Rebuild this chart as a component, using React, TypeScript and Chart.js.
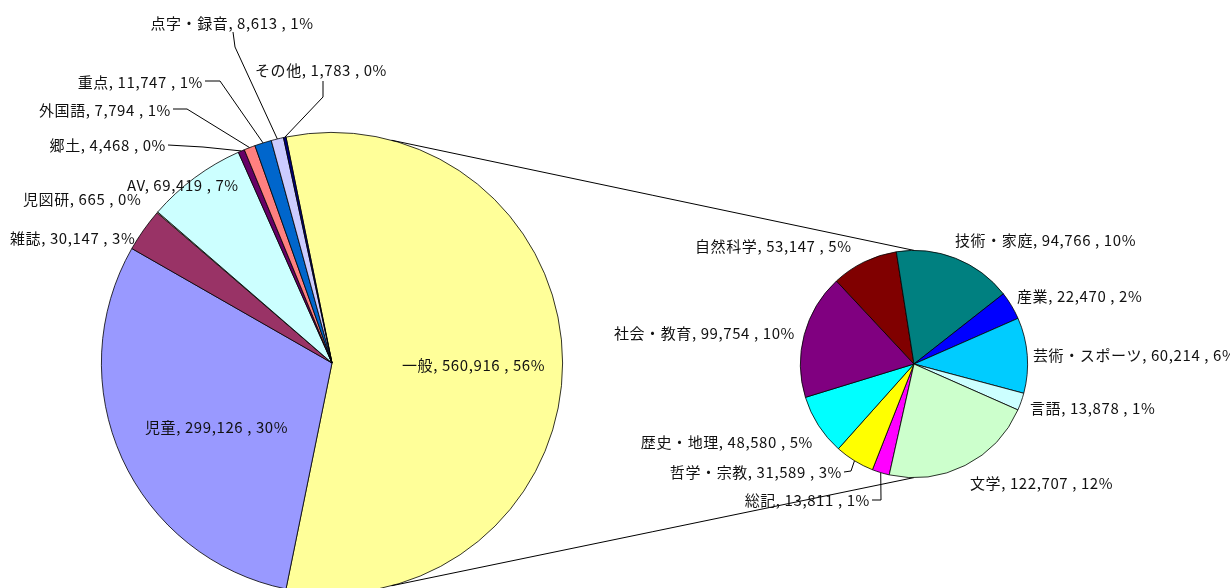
import React, { useEffect, useRef } from 'react';
import { Chart, registerables } from 'chart.js';

Chart.register(...registerables);

// ---- data ----
const mainCategories = ['一般', '児童', '雑誌', '児図研', 'AV', '郷土', '外国語', '重点', '点字・録音', 'その他'];
const mainValues = [560916, 299126, 30147, 665, 69419, 4468, 7794, 11747, 8613, 1783];
const subCategories = ['総記', '哲学・宗教', '歴史・地理', '社会・教育', '自然科学', '技術・家庭', '産業', '芸術・スポーツ', '言語', '文学'];
const subValues = [13811, 31589, 48580, 99754, 53147, 94766, 22470, 60214, 13878, 122707];

// ---- styles ----
const mainColors = ['#FFFF99', '#9999FF', '#993366', '#FFFFCC', '#CCFFFF', '#660066', '#FF8080', '#0066CC', '#CCCCFF', '#000080'];
const subColors = ['#FF00FF', '#FFFF00', '#00FFFF', '#800080', '#800000', '#008080', '#0000FF', '#00CCFF', '#CCFFFF', '#CCFFCC'];

type LabelPos = { x: number; y: number; align: 'left' | 'right' | 'center'; leader?: number[][] };

const mainLabelLayout: LabelPos[] = [
  { x: 402, y: 365, align: 'left' },
  { x: 145, y: 427, align: 'left' },
  { x: 10, y: 238, align: 'left' },
  { x: 23, y: 199, align: 'left' },
  { x: 127, y: 185, align: 'left' },
  { x: 166, y: 145, align: 'right', leader: [[168, 145], [203, 147]] },
  { x: 171, y: 110, align: 'right', leader: [[173, 109], [187, 109]] },
  { x: 203, y: 82, align: 'right', leader: [[205, 81], [220, 81]] },
  { x: 232, y: 23, align: 'center', leader: [[233, 32], [235, 47]] },
  { x: 255, y: 70, align: 'left', leader: [[323, 81], [323, 97]] },
];

const subLabelLayout: LabelPos[] = [
  { x: 870, y: 500, align: 'right', leader: [[872, 500], [881, 500]] },
  { x: 842, y: 472, align: 'right', leader: [[844, 472], [851, 471]] },
  { x: 813, y: 442, align: 'right' },
  { x: 795, y: 333, align: 'right' },
  { x: 695, y: 246, align: 'left' },
  { x: 955, y: 240, align: 'left' },
  { x: 1017, y: 296, align: 'left' },
  { x: 1033, y: 355, align: 'left' },
  { x: 1030, y: 408, align: 'left' },
  { x: 970, y: 483, align: 'left' },
];

const W = 1230;
const H = 600;
const FONT = '15px "Noto Sans CJK JP", "Noto Sans", sans-serif';

const total = mainValues.reduce((a, b) => a + b, 0);

function labelText(name: string, v: number) {
  return `${name}, ${v.toLocaleString('en-US')} , ${Math.round((v / total) * 100)}%`;
}

function makeLabelPlugin(names: string[], values: number[], layout: LabelPos[]) {
  return {
    id: 'sliceLabels',
    afterDraw(chart: any) {
      const ctx = chart.ctx;
      const meta = chart.getDatasetMeta(0);
      ctx.save();
      ctx.font = FONT;
      try {
        (ctx as any).letterSpacing = '0.6px';
      } catch (e) {
        /* ignore */
      }
      ctx.fillStyle = '#111';
      ctx.strokeStyle = '#000';
      ctx.lineWidth = 1;
      ctx.textBaseline = 'middle';
      layout.forEach((p, i) => {
        const arc = meta.data[i];
        if (p.leader) {
          const { x, y, startAngle, endAngle, outerRadius } = arc.getProps(['x', 'y', 'startAngle', 'endAngle', 'outerRadius'], true);
          const mid = (startAngle + endAngle) / 2;
          const ex = x + Math.cos(mid) * outerRadius;
          const ey = y + Math.sin(mid) * outerRadius;
          ctx.beginPath();
          ctx.moveTo(p.leader[0][0], p.leader[0][1]);
          for (let k = 1; k < p.leader.length; k++) ctx.lineTo(p.leader[k][0], p.leader[k][1]);
          ctx.lineTo(ex, ey);
          ctx.stroke();
        }
        ctx.textAlign = p.align;
        ctx.fillText(labelText(names[i], values[i]), p.x, p.y);
      });
      ctx.restore();
    },
  };
}

export default function App() {
  const mainRef = useRef<HTMLCanvasElement | null>(null);
  const subRef = useRef<HTMLCanvasElement | null>(null);

  useEffect(() => {
    if (!mainRef.current || !subRef.current) return;

    const mainChart = new Chart(mainRef.current, {
      type: 'pie',
      data: {
        labels: mainCategories,
        datasets: [
          {
            data: mainValues,
            backgroundColor: mainColors,
            borderColor: '#000',
            borderWidth: 0.8,
          },
        ],
      },
      options: {
        responsive: false,
        animation: false,
        rotation: 90 - (mainValues[0] / total) * 180,
        layout: { padding: { left: 101, right: W - 563, top: 132, bottom: H - 594 } },
        plugins: { legend: { display: false }, tooltip: { enabled: false } },
        events: [],
      },
      plugins: [makeLabelPlugin(mainCategories, mainValues, mainLabelLayout)],
    } as any);

    const connectors = {
      id: 'connectors',
      beforeDatasetsDraw(chart: any) {
        const m = mainChart.getDatasetMeta(0).data[0] as any;
        const s = chart.getDatasetMeta(0).data[0];
        const mp = m.getProps(['x', 'y', 'outerRadius'], true);
        const sp = s.getProps(['x', 'y', 'outerRadius'], true);
        const pt = (c: any, deg: number) => [
          c.x + c.outerRadius * Math.sin((deg * Math.PI) / 180),
          c.y - c.outerRadius * Math.cos((deg * Math.PI) / 180),
        ];
        const ctx = chart.ctx;
        ctx.save();
        ctx.strokeStyle = '#000';
        ctx.lineWidth = 1;
        [[15, 0], [165, 180]].forEach(([a, b]) => {
          const p1 = pt(mp, a);
          const p2 = pt(sp, b);
          ctx.beginPath();
          ctx.moveTo(p1[0], p1[1]);
          ctx.lineTo(p2[0], p2[1]);
          ctx.stroke();
        });
        ctx.restore();
      },
    };

    const subChart = new Chart(subRef.current, {
      type: 'pie',
      data: {
        labels: subCategories,
        datasets: [
          {
            data: subValues,
            backgroundColor: subColors,
            borderColor: '#000',
            borderWidth: 0.8,
          },
        ],
      },
      options: {
        responsive: false,
        animation: false,
        rotation: 192.6,
        layout: { padding: { left: 800, right: W - 1028, top: 250, bottom: H - 478 } },
        plugins: { legend: { display: false }, tooltip: { enabled: false } },
        events: [],
      },
      plugins: [connectors, makeLabelPlugin(subCategories, subValues, subLabelLayout)],
    } as any);

    return () => {
      subChart.destroy();
      mainChart.destroy();
    };
  }, []);

  return (
    <div
      style={{
        position: 'fixed',
        left: 0,
        top: 0,
        width: W,
        height: 588,
        overflow: 'hidden',
        background: '#fff',
      }}
    >
      <canvas ref={mainRef} width={W} height={H} style={{ position: 'absolute', left: 0, top: 0 }} />
      <canvas ref={subRef} width={W} height={H} style={{ position: 'absolute', left: 0, top: 0 }} />
    </div>
  );
}
